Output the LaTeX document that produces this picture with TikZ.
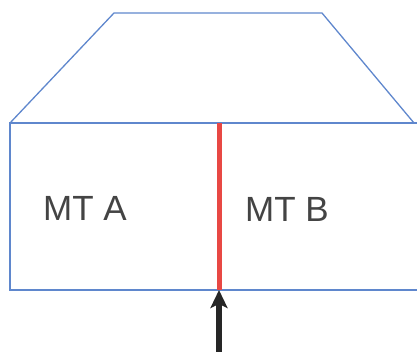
\documentclass[tikz,border=0pt]{standalone}
\usepackage{fontspec}
\setmainfont{Liberation Sans}
\usepackage{tikz}
\usetikzlibrary{arrows.meta,positioning}
\definecolor{wallblue}{RGB}{95,135,205}
\definecolor{linkred}{RGB}{232,72,68}
\definecolor{labelgray}{RGB}{68,68,68}

\begin{document}
\begin{tikzpicture}[x=1pt,y=-1pt,
  wall/.style={draw=wallblue,line width=1.3pt},
  mtlabel/.style={font=\fontsize{35}{40}\selectfont,text=labelgray,inner sep=0pt}]
\useasboundingbox (0,0) rectangle (417,352);
\clip (0,0) rectangle (417,352);
% corners of the roof and the box
\coordinate (roofL) at (114,13);
\coordinate (roofR) at (322,13);
\coordinate (topL) at (10,123);
\coordinate (topR) at (414,123);
\coordinate (botL) at (10,290);
\coordinate (botR) at (420,290);
\coordinate (joinT) at (219,123);
\coordinate (joinB) at (219,290);
\coordinate (feed) at (219,352);
% roof and box
\draw[wall] (topL) -- (roofL) -- (roofR) -- (topR);
\draw[wall] (420,123) -- (topL) -- (botL) -- (botR);
% the two halves
\node[mtlabel] (mta) at (85,208) {MT A};
\node[mtlabel] (mtb) at (287,209) {MT B};
% shared line between them
\draw[linkred,line width=5pt] (joinT) -- (joinB);
\draw[-{Stealth[length=18pt,width=17pt,inset=4pt]},line width=6pt,black!85] (feed) -- (joinB);
\end{tikzpicture}
\end{document}
